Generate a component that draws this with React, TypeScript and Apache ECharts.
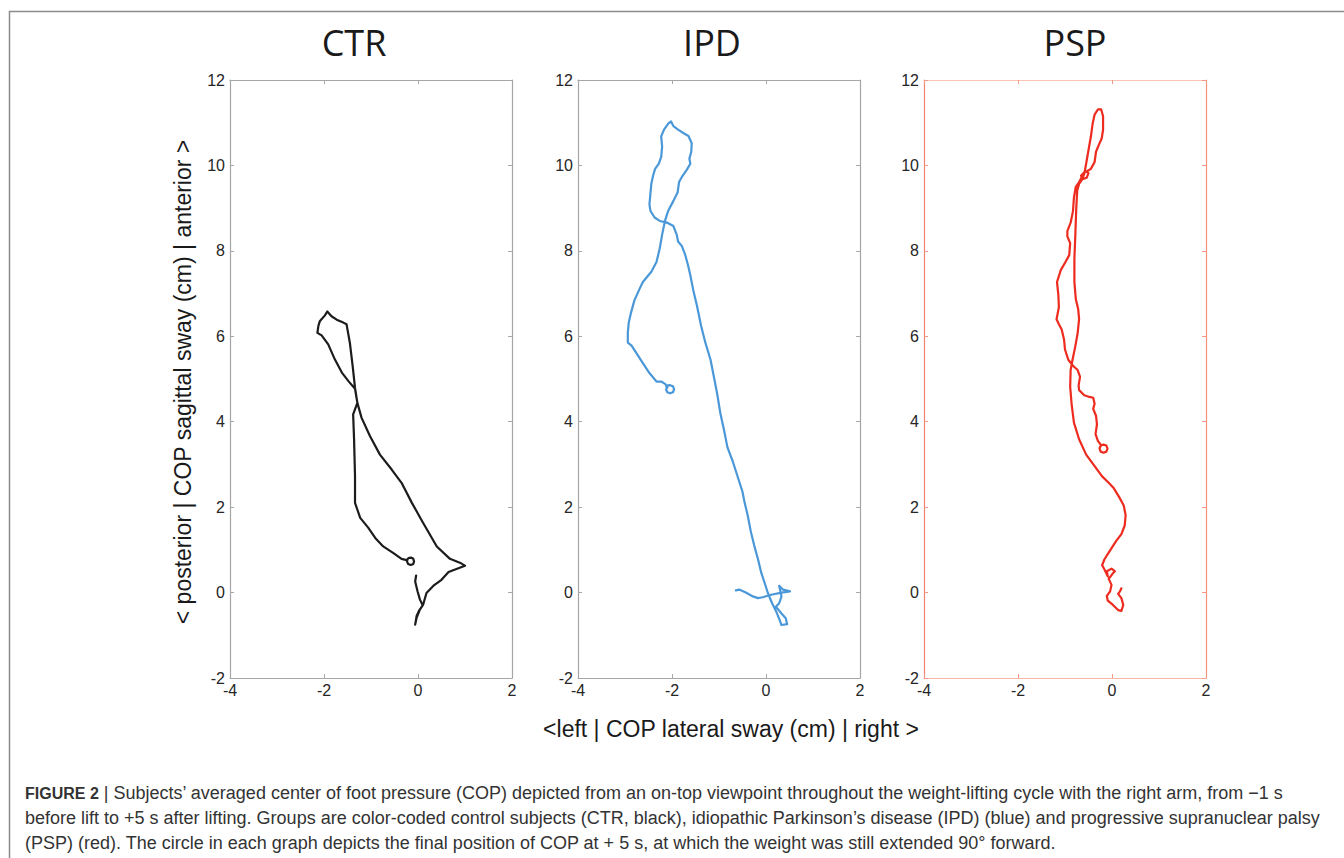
import React, { useEffect, useRef } from "react";
import * as echarts from "echarts";

// ---- data (cm) ----
const panelTitles = ["CTR", "IPD", "PSP"];
const xTicks = { min: -4, max: 2, interval: 2 };
const yTicks = { min: -2, max: 12, interval: 2 };

const ctrPath: number[][] = [
  [-0.04, 0.4], [-0.06, 0.26], [-0.01, 0.03], [0.04, -0.16], [0.1, -0.3], [0.03, -0.41],
  [-0.03, -0.55], [-0.06, -0.75], [-0.03, -0.59], [0.04, -0.4], [0.11, -0.28], [0.18, -0.01],
  [0.33, 0.16], [0.5, 0.3], [0.65, 0.48], [0.86, 0.57], [1.0, 0.63], [0.89, 0.7], [0.68, 0.79],
  [0.4, 1.08], [0.11, 1.63], [-0.13, 2.1], [-0.35, 2.57], [-0.56, 2.88], [-0.81, 3.23],
  [-1.02, 3.66], [-1.2, 4.09], [-1.29, 4.44], [-1.34, 4.79], [-1.39, 5.3], [-1.45, 5.85],
  [-1.52, 6.28], [-1.59, 6.32], [-1.73, 6.39], [-1.84, 6.47], [-1.93, 6.58], [-1.98, 6.49],
  [-2.09, 6.35], [-2.12, 6.24], [-2.14, 6.08], [-2.05, 6.02], [-1.91, 5.81], [-1.77, 5.46],
  [-1.62, 5.15], [-1.48, 4.95], [-1.34, 4.77], [-1.29, 4.44], [-1.38, 4.17], [-1.36, 3.58],
  [-1.34, 2.72], [-1.34, 2.1], [-1.23, 1.75], [-1.06, 1.52], [-0.91, 1.28], [-0.74, 1.08],
  [-0.53, 0.93], [-0.35, 0.79], [-0.24, 0.76], [-0.23, 0.77], [-0.2, 0.81], [-0.15, 0.82],
  [-0.1, 0.79], [-0.085, 0.73], [-0.1, 0.67], [-0.155, 0.645], [-0.21, 0.67], [-0.235, 0.73],
  [-0.22, 0.78],
];

const ipdPath: number[][] = [
  [-0.64, 0.05], [-0.57, 0.07], [-0.43, 0.0], [-0.28, -0.09], [-0.17, -0.13], [-0.07, -0.11],
  [0.11, -0.05], [0.33, 0.0], [0.51, 0.03], [0.36, 0.07], [0.28, 0.16], [0.33, -0.09],
  [0.28, -0.25], [0.21, -0.33], [0.33, -0.49], [0.42, -0.6], [0.45, -0.74], [0.33, -0.76],
  [0.29, -0.64], [0.22, -0.45], [0.13, -0.25], [0.04, -0.01], [-0.03, 0.23], [-0.1, 0.46],
  [-0.17, 0.78], [-0.25, 1.1], [-0.32, 1.41], [-0.39, 1.81], [-0.46, 2.13], [-0.5, 2.36],
  [-0.57, 2.6], [-0.71, 3.08], [-0.82, 3.4], [-0.89, 3.79], [-0.97, 4.19], [-1.04, 4.66],
  [-1.11, 5.06], [-1.18, 5.45], [-1.29, 5.85], [-1.38, 6.24], [-1.47, 6.72], [-1.54, 7.04],
  [-1.61, 7.43], [-1.66, 7.67], [-1.72, 7.91], [-1.79, 8.11], [-1.87, 8.22], [-1.9, 8.38],
  [-1.97, 8.58], [-2.1, 8.66], [-2.26, 8.7], [-2.37, 8.78], [-2.46, 8.94], [-2.48, 9.09],
  [-2.46, 9.33], [-2.44, 9.57], [-2.4, 9.77], [-2.36, 9.92], [-2.28, 10.04], [-2.23, 10.2],
  [-2.21, 10.44], [-2.23, 10.68], [-2.17, 10.84], [-2.08, 10.98], [-2.02, 11.03], [-1.97, 10.92],
  [-1.87, 10.84], [-1.76, 10.76], [-1.65, 10.69], [-1.58, 10.52], [-1.59, 10.32], [-1.63, 10.16],
  [-1.61, 10.04], [-1.69, 9.89], [-1.79, 9.73], [-1.85, 9.61], [-1.88, 9.37], [-1.97, 9.17],
  [-2.08, 8.94], [-2.15, 8.7], [-2.21, 8.38], [-2.26, 8.06], [-2.33, 7.74], [-2.44, 7.51],
  [-2.62, 7.27], [-2.69, 7.11], [-2.8, 6.84], [-2.87, 6.56], [-2.92, 6.32], [-2.94, 6.09],
  [-2.94, 5.85], [-2.86, 5.78], [-2.76, 5.61], [-2.62, 5.37], [-2.48, 5.14], [-2.33, 4.94],
  [-2.23, 4.94], [-2.14, 4.88], [-2.1, 4.8], [-2.12, 4.8], [-2.09, 4.85], [-2.04, 4.855],
  [-1.98, 4.83], [-1.955, 4.76], [-1.98, 4.69], [-2.04, 4.665], [-2.1, 4.69], [-2.125, 4.75],
  [-2.1, 4.81],
];

const pspPath: number[][] = [
  [0.2, 0.1], [0.17, 0.03], [0.13, -0.03], [0.2, -0.13], [0.24, -0.29], [0.2, -0.43],
  [0.13, -0.41], [0.02, -0.29], [-0.09, -0.19], [-0.11, -0.08], [-0.04, 0.03], [-0.01, 0.18],
  [-0.07, 0.32], [0.01, 0.44], [0.06, 0.5], [-0.01, 0.56], [-0.11, 0.5], [-0.09, 0.38],
  [-0.16, 0.54], [-0.21, 0.64], [-0.16, 0.78], [-0.05, 0.97], [0.09, 1.21], [0.2, 1.37],
  [0.27, 1.57], [0.29, 1.81], [0.25, 2.04], [0.15, 2.24], [0.04, 2.44], [-0.06, 2.56],
  [-0.21, 2.72], [-0.37, 2.96], [-0.55, 3.23], [-0.7, 3.59], [-0.81, 3.98], [-0.86, 4.42],
  [-0.89, 4.82], [-0.88, 5.21], [-0.84, 5.45], [-0.78, 5.77], [-0.73, 6.08], [-0.7, 6.4],
  [-0.72, 6.64], [-0.77, 6.87], [-0.8, 7.27], [-0.8, 7.82], [-0.78, 8.38], [-0.76, 9.01],
  [-0.74, 9.41], [-0.7, 9.57], [-0.64, 9.66], [-0.59, 9.8], [-0.55, 10.04], [-0.5, 10.36],
  [-0.45, 10.67], [-0.41, 10.99], [-0.37, 11.19], [-0.3, 11.31], [-0.23, 11.31], [-0.19, 11.15],
  [-0.19, 10.83], [-0.22, 10.63], [-0.28, 10.48], [-0.34, 10.32], [-0.37, 10.08], [-0.45, 9.92],
  [-0.52, 9.87], [-0.59, 9.84], [-0.66, 9.76], [-0.63, 9.68], [-0.54, 9.71], [-0.5, 9.82],
  [-0.57, 9.88], [-0.7, 9.61], [-0.77, 9.5], [-0.81, 9.25], [-0.83, 8.93], [-0.88, 8.66],
  [-0.95, 8.46], [-0.95, 8.34], [-0.89, 8.18], [-0.91, 7.9], [-0.99, 7.74], [-1.09, 7.55],
  [-1.17, 7.27], [-1.14, 6.95], [-1.13, 6.68], [-1.18, 6.4], [-1.13, 6.28], [-1.07, 6.16],
  [-1.02, 5.92], [-1.0, 5.69], [-0.93, 5.45], [-0.83, 5.31], [-0.73, 5.21], [-0.68, 5.05],
  [-0.71, 4.85], [-0.7, 4.74], [-0.59, 4.62], [-0.48, 4.58], [-0.4, 4.56], [-0.37, 4.42],
  [-0.4, 4.3], [-0.34, 4.14], [-0.32, 3.94], [-0.35, 3.71], [-0.3, 3.55], [-0.23, 3.45],
  [-0.26, 3.4], [-0.23, 3.45], [-0.18, 3.465], [-0.12, 3.44], [-0.095, 3.37], [-0.12, 3.3],
  [-0.18, 3.275], [-0.24, 3.3], [-0.265, 3.37], [-0.24, 3.43],
];

const paths = [ctrPath, ipdPath, pspPath];
const lineColors = ["#1c1c1c", "#4b98d9", "#ee2b1f"];
const frameColors = ["#a6a6a6", "#a6a6a6", "#f39a86"];

const yAxisTitle = "< posterior | COP sagittal sway (cm) | anterior >";
const xAxisTitle = "<left | COP lateral sway (cm) | right >";
const captionLines = [
  "{b|FIGURE 2} | Subjects\u2019 averaged center of foot pressure (COP) depicted from an on-top viewpoint throughout the weight-lifting cycle with the right arm, from \u22121 s",
  "before lift to +5 s after lifting. Groups are color-coded control subjects (CTR, black), idiopathic Parkinson\u2019s disease (IPD) (blue) and progressive supranuclear palsy",
  "(PSP) (red). The circle in each graph depicts the final position of COP at + 5 s, at which the weight was still extended 90\u00b0 forward.",
];

// ---- layout ----
const gridLefts = [230, 578, 924];
const gridTop = 80;
const gridW = 282;
const gridH = 598;
const titleXs = [354, 712, 1075];

const SANS = "'Liberation Sans', Arial, sans-serif";

export default function App() {
  const ref = useRef<HTMLDivElement>(null);
  useEffect(() => {
    if (!ref.current) return;
    const chart = echarts.init(ref.current, undefined, { renderer: "svg" });

    const grids: any[] = [];
    const xAxes: any[] = [];
    const yAxes: any[] = [];
    const series: any[] = [];

    paths.forEach((p, i) => {
      const fc = frameColors[i];
      grids.push({ left: gridLefts[i], top: gridTop, width: gridW, height: gridH, containLabel: false });
      const tick = { show: true, inside: true, length: 4, lineStyle: { color: fc, width: 1 } };
      const label = { fontSize: 16, color: "#262626", fontFamily: SANS };
      xAxes.push({
        gridIndex: i, type: "value", position: "bottom", ...xTicks,
        axisLine: { show: true, onZero: false, lineStyle: { color: i === 2 ? "#f7b5a3" : fc, width: 1.2 } },
        axisTick: tick, axisLabel: { ...label, margin: 4 }, splitLine: { show: false },
      });
      xAxes.push({
        gridIndex: i, type: "value", position: "top", ...xTicks,
        axisLine: { show: true, onZero: false, lineStyle: { color: i === 2 ? "#fcc4b3" : fc, width: 1.2 } },
        axisTick: tick, axisLabel: { show: false }, splitLine: { show: false },
      });
      yAxes.push({
        gridIndex: i, type: "value", position: "left", ...yTicks,
        axisLine: { show: true, onZero: false, lineStyle: { color: i === 2 ? "#f2826f" : fc, width: 1.2 } },
        axisTick: tick, axisLabel: { ...label, margin: 5 }, splitLine: { show: false },
      });
      yAxes.push({
        gridIndex: i, type: "value", position: "right", ...yTicks,
        axisLine: { show: true, onZero: false, lineStyle: { color: i === 2 ? "#f2907c" : fc, width: 1.2 } },
        axisTick: tick, axisLabel: { show: false }, splitLine: { show: false },
      });
      series.push({
        type: "line", name: panelTitles[i], xAxisIndex: i * 2, yAxisIndex: i * 2,
        data: p, showSymbol: false, symbol: "none", smooth: false,
        lineStyle: { color: lineColors[i], width: 2.2, join: "round", cap: "round" },
        z: 5,
      });
    });

    const graphic: any[] = [
      { type: "line", shape: { x1: 9, y1: 11.5, x2: 1344, y2: 11.5 }, style: { stroke: "#8c8c8c", lineWidth: 1.5 } },
      { type: "line", shape: { x1: 9.5, y1: 11, x2: 9.5, y2: 858 }, style: { stroke: "#8c8c8c", lineWidth: 1.5 } },
      ...panelTitles.map((t, i) => ({
        type: "text", x: titleXs[i], y: 42,
        style: { text: t, fontSize: 36, fontFamily: "'Open Sans', sans-serif", fill: "#1a1a1a", align: "center", verticalAlign: "middle" },
      })),
      {
        type: "text", x: 183, y: 382, rotation: Math.PI / 2,
        style: { text: yAxisTitle, fontSize: 23, fontFamily: SANS, fill: "#1a1a1a", align: "center", verticalAlign: "middle" },
      },
      {
        type: "text", x: 731, y: 729,
        style: { text: xAxisTitle, fontSize: 23, fontFamily: SANS, fill: "#1a1a1a", align: "center", verticalAlign: "middle" },
      },
      ...captionLines.map((t, i) => ({
        type: "text", x: 25, y: 793 + i * 25,
        style: {
          text: t, fontSize: 18, fontFamily: SANS, fill: "#333333", align: "left", verticalAlign: "middle",
          rich: { b: { fontSize: 16, fontFamily: SANS, fontWeight: "bold", fill: "#333333" } },
        },
      })),
    ];

    chart.setOption({
      animation: false,
      backgroundColor: "#ffffff",
      grid: grids,
      xAxis: xAxes,
      yAxis: yAxes,
      series,
      graphic,
    });
    return () => chart.dispose();
  }, []);

  return <div ref={ref} style={{ position: "absolute", left: 0, top: 0, width: 1344, height: 858 }} />;
}
